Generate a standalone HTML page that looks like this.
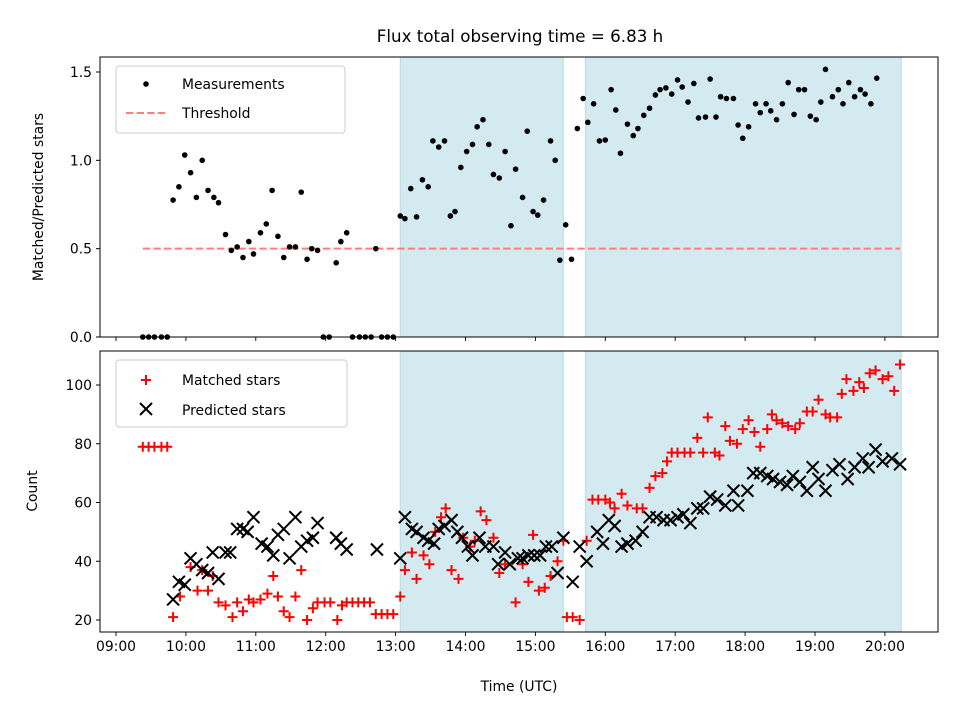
<!DOCTYPE html>
<html><head><meta charset="utf-8"><style>
body{margin:0;background:#fff}
svg{display:block;font-family:"DejaVu Sans","Liberation Sans",sans-serif}
</style></head><body>
<svg id="chart" width="960" height="720" viewBox="0 0 960 720" xmlns="http://www.w3.org/2000/svg">
<rect width="960" height="720" fill="#fff"/>
<g id="topPanel"></g>
<g id="botPanel"></g>
</svg>
<script>
// Minutes since 09:00 UTC
const ratioTimes=[23,28,33,39,44,49,54,59,64,69,74,79,84,88,94,99,104,109,114,118,124,129,134,139,144,149,154,159,164,168,173,178,183,189,193,198,203,209,214,219,223,228,233,238,244,248,253,258,263,268,272,277,282,287,291,296,301,306,310,315,320,324,329,334,339,343,349,353,358,362,367,373,377,381,386,391,396,401,405,410,415,420,425,429,433,439,444,448,453,458,463,467,472,477,482,486,491,496,500,506,510,515,519,524,530,534,538,543,549,553,558,562,567,572,577,582,586,591,596,601,605,609,615,620,624,629,634,639,643,648,653];
const ratioValues=[0,0,0,0,0,0.775,0.85,1.03,0.93,0.79,1.0,0.83,0.79,0.76,0.58,0.49,0.51,0.45,0.54,0.47,0.59,0.64,0.83,0.57,0.45,0.51,0.51,0.82,0.44,0.50,0.49,0,0,0.42,0.54,0.59,0,0,0,0,0.50,0,0,0,0.685,0.67,0.84,0.68,0.89,0.85,1.11,1.075,1.11,0.685,0.71,0.96,1.05,1.09,1.19,1.23,1.09,0.92,0.90,1.05,0.63,0.95,0.79,1.165,0.71,0.69,0.775,1.11,1.00,0.435,0.635,0.44,1.18,1.35,1.215,1.32,1.11,1.115,1.40,1.285,1.04,1.205,1.14,1.18,1.255,1.295,1.37,1.40,1.41,1.375,1.455,1.415,1.33,1.435,1.24,1.245,1.46,1.245,1.36,1.35,1.35,1.20,1.125,1.19,1.32,1.27,1.32,1.28,1.23,1.32,1.44,1.26,1.40,1.40,1.25,1.23,1.33,1.515,1.36,1.40,1.32,1.44,1.36,1.40,1.375,1.32,1.465];
const threshold=0.5;
const thresholdRange=[23,673];
const matchedTimes=[23,28,33,39,44,49,55,64,70,74,79,83,88,94,100,104,109,114,118,124,130,135,139,144,149,154,159,164,169,173,179,184,190,194,198,203,208,213,218,223,228,233,238,244,248,254,258,264,269,274,279,283,288,294,298,304,308,313,318,324,329,334,343,349,354,358,363,368,373,379,384,387,392,398,404,409,414,420,424,428,434,439,447,452,458,463,469,473,477,482,488,493,499,504,508,514,518,523,527,533,538,543,548,553,559,563,567,572,577,583,587,593,598,603,609,613,619,623,627,633,638,642,647,652,658,663,668,673];
const matchedValues=[79,79,79,79,79,21,28,38,30,37,30,35,26,25,21,26,23,27,26,27,29,35,28,23,21,28,37,20,24,26,26,26,20,25,26,26,26,26,26,22,22,22,22,28,37,43,34,42,39,50,55,58,37,34,48,45,47,57,54,48,36,39,26,39,33,49,30,31,35,40,47,21,21,20,47,61,61,61,60,58,63,59,58,58,65,69,70,74,77,77,77,77,82,77,89,77,76,86,81,80,85,88,84,79,85,90,88,87,86,85,87,91,91,95,90,89,89,97,102,98,101,99,104,105,102,103,98,107];
const predTimes=[49,54,59,64,69,74,79,83,88,94,98,104,109,113,118,125,130,135,139,144,149,154,159,164,169,173,189,193,198,224,244,248,254,258,264,268,273,277,282,288,293,297,302,306,312,317,324,328,334,338,345,349,354,359,364,369,374,379,384,392,398,404,413,418,423,428,434,439,446,452,458,464,470,476,482,487,493,499,504,510,516,523,530,534,542,547,553,559,564,570,576,581,587,593,598,603,609,615,621,628,634,641,646,652,658,666,673];
const predValues=[27,33,32,41,39,37,36,43,34,43,43,51,51,50,55,46,45,42,49,51,41,55,45,47,48,53,48,46,44,44,41,55,51,50,48,47,46,51,52,54,50,48,45,42,48,45,45,39,43,39,41,41,42,42,42,45,45,36,48,33,45,40,50,46,54,52,45,46,47,50,55,55,54,54,55,56,53,58,58,62,61,59,64,59,64,70,70,69,68,67,66,69,67,64,72,68,64,71,73,68,72,75,72,78,74,75,73];
const spans=[[244,384],[403,674]];
const hourLabels=["09:00","10:00","11:00","12:00","13:00","14:00","15:00","16:00","17:00","18:00","19:00","20:00"];
const ratioTicks=[0.0,0.5,1.0,1.5];
const countTicks=[20,40,60,80,100];

const NS="http://www.w3.org/2000/svg";
const L=100,R=938;
const FS=13.9;
const xs=m=>116+m/60*69.9;
const yTop=v=>337-v*176.67;
const yBot=v=>620-(v-20)*2.9375;
function el(tag,attrs,parent,text){const e=document.createElementNS(NS,tag);for(const k in attrs)e.setAttribute(k,attrs[k]);if(text!==undefined)e.textContent=text;parent.appendChild(e);return e;}
const topG=document.getElementById('topPanel'),botG=document.getElementById('botPanel'),svgEl=document.getElementById('chart');

function panel(g,y0,y1,name){
  spans.forEach((s,i)=>{const r=el('rect',{x:xs(s[0]),y:y0,width:xs(s[1])-xs(s[0]),height:y1-y0,fill:'#d4eaf1',stroke:'#b9dce8','stroke-width':1},g);
    
    });
  hourLabels.forEach((h,i)=>{const t=el('line',{x1:xs(i*60),x2:xs(i*60),y1:y1,y2:y1+4,stroke:'#000','stroke-width':0.9},g);
    
    });
}
panel(topG,57,337,'ratio');
panel(botG,351,632,'count');

const th=el('line',{x1:xs(thresholdRange[0]),x2:xs(thresholdRange[1]),y1:yTop(threshold),y2:yTop(threshold),stroke:'#ff7f7f','stroke-width':2,'stroke-dasharray':'7.4,3.2'},topG);


ratioTimes.forEach((t,i)=>{const c=el('circle',{cx:xs(t),cy:yTop(ratioValues[i]),r:2.8,fill:'#000'},topG);
  
  });

matchedTimes.forEach((t,i)=>{const x=xs(t),y=yBot(matchedValues[i]);
  const p=el('path',{d:`M${x-5},${y}H${x+5}M${x},${y-5}V${y+5}`,stroke:'#f00','stroke-width':2},botG);
  
  });
predTimes.forEach((t,i)=>{const x=xs(t),y=yBot(predValues[i]);
  const p=el('path',{d:`M${x-6},${y-6}L${x+6},${y+6}M${x-6},${y+6}L${x+6},${y-6}`,stroke:'#000','stroke-width':2},botG);
  
  });

[[topG,57,337],[botG,351,632]].forEach(([g,a,b])=>{const f=el('rect',{x:L,y:a,width:R-L,height:b-a,fill:'none',stroke:'#000','stroke-width':1},g);
  
  });

ratioTicks.forEach(v=>{const y=yTop(v);el('line',{x1:L-4,x2:L,y1:y,y2:y,stroke:'#000'},topG);
  const t=el('text',{x:92,y:y+5,'text-anchor':'end','font-size':FS},topG,v.toFixed(1));
  
  });
countTicks.forEach(v=>{const y=yBot(v);el('line',{x1:L-4,x2:L,y1:y,y2:y,stroke:'#000'},botG);
  const t=el('text',{x:92,y:y+5,'text-anchor':'end','font-size':FS},botG,String(v));
  
  });
hourLabels.forEach((h,i)=>{const t=el('text',{x:xs(i*60),y:651,'text-anchor':'middle','font-size':FS},botG,h);
  
  });

function txt(attrs,s,name){const t=el('text',attrs,svgEl,s);return t;}
txt({x:520,y:42,'text-anchor':'middle','font-size':16.7},'Flux total observing time = 6.83 h','chart-title');
txt({x:519,y:691,'text-anchor':'middle','font-size':FS},'Time (UTC)','x-axis-title');
txt({x:43,y:197,'text-anchor':'middle','font-size':FS,transform:'rotate(-90 43 197)'},'Matched/Predicted stars','ratio-y-axis-title');
txt({x:37,y:491,'text-anchor':'middle','font-size':FS,transform:'rotate(-90 37 491)'},'Count','count-y-axis-title');

const lg1=el('g',{},topG);


el('rect',{x:116,y:66,width:229,height:67,rx:3,fill:'#fff','fill-opacity':0.8,stroke:'#ccc'},lg1);
el('circle',{cx:146,cy:84,r:2.8,fill:'#000'},lg1);
el('text',{x:182,y:89,'font-size':FS},lg1,'Measurements');
el('line',{x1:126,x2:166,y1:113,y2:113,stroke:'#ff7f7f','stroke-width':2,'stroke-dasharray':'7.4,3.2'},lg1);
el('text',{x:182,y:118,'font-size':FS},lg1,'Threshold');
const lg2=el('g',{},botG);


el('rect',{x:116,y:360,width:231,height:67,rx:3,fill:'#fff','fill-opacity':0.8,stroke:'#ccc'},lg2);
el('path',{d:'M141,380H151M146,375V385',stroke:'#f00','stroke-width':2},lg2);
el('text',{x:182,y:385,'font-size':FS},lg2,'Matched stars');
el('path',{d:'M140,403L152,415M140,415L152,403',stroke:'#000','stroke-width':2},lg2);
el('text',{x:182,y:415,'font-size':FS},lg2,'Predicted stars');
</script>
</body></html>
